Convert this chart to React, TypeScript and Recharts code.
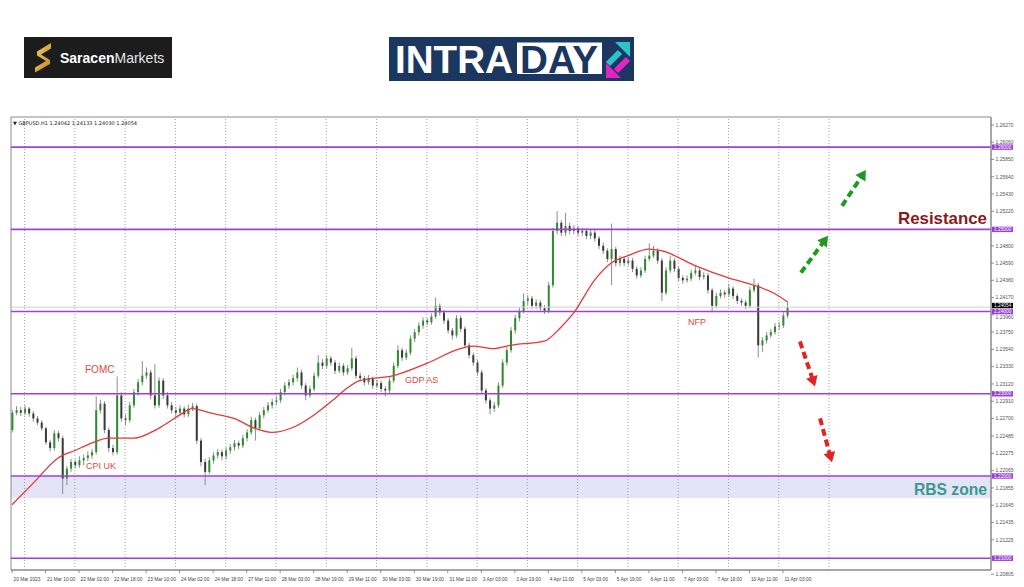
import React from 'react';
import { ComposedChart, Bar, Line, XAxis, YAxis, ReferenceLine, ReferenceArea } from 'recharts';

// Prices are stored in pips above BASE (1 pip = 0.0001). Bars are 2-hour steps.
const BASE = 1.2;
const PIP = 0.0001;
const FIRST_OPEN = 256;

const closes = [
  277, 280, 277, 282, 276, 270, 265, 258, 241, 234,
  252, 246, 197, 209, 217, 213, 219, 222, 225, 229,
  280, 288, 256, 234, 229, 298, 270, 268, 286, 302,
  314, 322, 326, 298, 286, 316, 298, 286, 280, 277,
  282, 275, 282, 285, 243, 217, 205, 219, 225, 229,
  224, 231, 235, 240, 237, 246, 253, 268, 258, 274,
  280, 286, 290, 292, 302, 310, 314, 319, 326, 310,
  298, 306, 322, 338, 334, 343, 338, 328, 334, 326,
  331, 343, 322, 319, 314, 319, 310, 313, 306, 304,
  316, 334, 353, 344, 350, 367, 375, 383, 389, 387,
  394, 407, 399, 389, 377, 371, 392, 379, 359, 347,
  338, 326, 304, 292, 282, 286, 310, 338, 353, 377,
  392, 401, 413, 416, 407, 411, 404, 401, 432, 498,
  508, 496, 504, 498, 501, 496, 498, 492, 496, 489,
  480, 474, 464, 476, 459, 464, 459, 462, 452, 444,
  450, 464, 468, 474, 462, 423, 450, 462, 452, 441,
  438, 440, 447, 450, 442, 444, 426, 407, 419, 423,
  421, 428, 419, 413, 411, 407, 426, 432, 359, 365,
  371, 375, 382, 383, 395, 405,
];

const highs = [
  280, 285, 284, 286, 284, 279, 273, 268, 260, 244,
  256, 255, 249, 212, 221, 220, 224, 226, 230, 233,
  297, 293, 291, 259, 238, 321, 302, 275, 290, 306,
  318, 340, 332, 329, 336, 320, 319, 302, 290, 284,
  286, 285, 287, 289, 288, 246, 221, 223, 229, 233,
  232, 235, 239, 244, 243, 250, 257, 272, 271, 278,
  284, 290, 294, 297, 306, 314, 318, 323, 332, 329,
  313, 310, 326, 347, 342, 347, 346, 341, 338, 337,
  335, 356, 346, 326, 322, 323, 321, 317, 316, 309,
  320, 338, 359, 356, 354, 371, 379, 387, 393, 392,
  398, 417, 410, 402, 392, 380, 396, 395, 382, 362,
  350, 341, 329, 307, 295, 290, 314, 342, 357, 381,
  396, 405, 422, 420, 419, 415, 414, 408, 436, 502,
  522, 511, 520, 508, 505, 504, 502, 501, 500, 499,
  492, 484, 477, 507, 479, 468, 467, 466, 465, 455,
  454, 468, 483, 480, 477, 465, 454, 468, 465, 455,
  444, 444, 451, 456, 453, 448, 447, 429, 423, 427,
  426, 434, 431, 422, 416, 414, 430, 440, 435, 369,
  375, 379, 386, 387, 399, 413,
];

const lows = [
  253, 274, 273, 274, 272, 266, 262, 255, 238, 230,
  231, 242, 178, 189, 205, 209, 210, 213, 218, 221,
  226, 276, 252, 229, 225, 226, 266, 262, 265, 283,
  298, 310, 318, 293, 282, 283, 294, 282, 276, 273,
  274, 271, 272, 279, 239, 212, 189, 202, 215, 221,
  219, 220, 227, 231, 233, 234, 242, 250, 243, 255,
  270, 277, 282, 286, 289, 298, 306, 310, 315, 306,
  292, 295, 303, 319, 330, 331, 334, 324, 325, 322,
  323, 328, 318, 315, 310, 311, 306, 307, 302, 297,
  301, 313, 331, 340, 341, 347, 363, 371, 379, 383,
  384, 391, 395, 385, 373, 366, 368, 375, 355, 343,
  334, 322, 300, 288, 275, 278, 283, 307, 334, 350,
  373, 388, 398, 408, 403, 403, 400, 397, 398, 429,
  494, 492, 492, 494, 494, 492, 492, 488, 488, 485,
  476, 470, 460, 432, 455, 455, 455, 456, 448, 440,
  441, 447, 461, 465, 458, 413, 420, 447, 448, 437,
  434, 435, 437, 444, 438, 439, 422, 399, 404, 416,
  417, 418, 415, 409, 407, 403, 404, 423, 344, 351,
  361, 368, 372, 378, 380, 392,
];

// Moving average read at sample hours
const maHours = [0, 10, 22, 30, 38, 46, 58, 70, 80, 86, 94, 106, 116, 124, 134, 144, 154, 160, 166, 182, 198, 214, 220, 230, 238, 254, 262, 268, 278, 286, 294, 304, 310, 326, 342, 354, 364, 370];
const maPips = [165, 191, 222, 231, 240, 246, 246, 258, 274, 282, 277, 270, 258, 253, 259, 274, 294, 307, 316, 322, 337, 355, 358, 355, 359, 364, 381, 398, 438, 459, 468, 476, 474, 456, 441, 432, 422, 412];

const timeLabels = [
  '20 Mar 2023', '21 Mar 10:00', '22 Mar 02:00', '22 Mar 18:00', '23 Mar 10:00', '24 Mar 02:00',
  '24 Mar 18:00', '27 Mar 11:00', '28 Mar 03:00', '28 Mar 19:00', '29 Mar 11:00', '30 Mar 03:00',
  '30 Mar 19:00', '31 Mar 11:00', '3 Apr 03:00', '3 Apr 19:00', '4 Apr 11:00', '5 Apr 03:00',
  '5 Apr 19:00', '6 Apr 11:00', '7 Apr 03:00', '7 Apr 19:00', '10 Apr 11:00', '11 Apr 03:00',
];
const labelHours = timeLabels.map((_, i) => i * 16);
const dayGridHours = Array.from({ length: 17 }, (_, k) => 6 + k * 24);

const priceTicks = [
  1.2627, 1.2606, 1.2585, 1.2564, 1.2543, 1.2522, 1.248, 1.2459, 1.2438, 1.2417,
  1.2396, 1.2375, 1.2354, 1.2333, 1.2312, 1.2291, 1.227, 1.22485, 1.22275, 1.22065,
  1.21855, 1.21645, 1.21435, 1.21225, 1.20805,
];
const tickLabelText = [
  '1.26270', '1.26060', '1.25850', '1.25640', '1.25430', '1.25220', '1.24800', '1.24590', '1.24380', '1.24170',
  '1.23960', '1.23750', '1.23540', '1.23330', '1.23120', '1.22910', '1.22700', '1.22485', '1.22275', '1.22065',
  '1.21855', '1.21645', '1.21435', '1.21225', '1.20805',
];
const levelPrices = [1.26, 1.25, 1.24, 1.23, 1.22, 1.21];
const levelText = ['1.26000', '1.25000', '1.24000', '1.23000', '1.22000', '1.21000'];
const lastPrice = 1.24054;
const rbsZone = [1.2173, 1.22];

const greenArrows = [
  [{ x: 376.6, y: 1.24473 }, { x: 389.5, y: 1.24922 }],
  [{ x: 396.2, y: 1.25286 }, { x: 407.6, y: 1.25723 }],
];
const redArrows = [
  [{ x: 376.1, y: 1.23636 }, { x: 383.3, y: 1.2309 }],
  [{ x: 385.7, y: 1.22701 }, { x: 391.4, y: 1.22167 }],
];

const X_MIN = -0.48;
const X_MAX = 467.3;
const Y_MIN = 1.208568;
const Y_MAX = 1.263665;

const maMap: Record<number, number> = {};
maHours.forEach((h, i) => { maMap[h] = BASE + maPips[i] * PIP; });

const rows = closes.map((c, i) => {
  const h = i * 2;
  const open = i === 0 ? FIRST_OPEN : closes[i - 1];
  return {
    h,
    open: BASE + open * PIP,
    close: BASE + c * PIP,
    high: BASE + highs[i] * PIP,
    low: BASE + lows[i] * PIP,
    ma: maMap[h] !== undefined ? maMap[h] : null,
  };
});

const FONT = 'Liberation Sans, Arial, sans-serif';

const Candle = (props: any) => {
  let { x, y, width, height, payload } = props;
  if (payload == null || x == null) return null;
  if (height < 0) { y = y + height; height = -height; }
  const { open, close, high, low } = payload;
  const cx = x + width / 2;
  const span = high - low || 1e-9;
  const py = (v: number) => y + ((high - v) / span) * height;
  const top = py(Math.max(open, close));
  const bot = py(Math.min(open, close));
  const bull = close >= open;
  return (
    <g>
      <line x1={cx} x2={cx} y1={y} y2={y + height} stroke="#8e8e8e" strokeWidth={1} />
      <rect x={cx - 1} y={top} width={2} height={Math.max(0.8, bot - top)} fill={bull ? '#2e8b2e' : '#3a3a3a'} />
    </g>
  );
};

const TimeTick = (props: any) => {
  const { x, y, payload } = props;
  const idx = labelHours.indexOf(payload.value);
  const label = idx >= 0 ? timeLabels[idx] : '';
  return (
    <g>
      <line x1={x} x2={x} y1={y} y2={y + 3} stroke="#777" strokeWidth={0.8} />
      <text x={x + 1.5} y={y + 10.5} fontSize={4.8} fill="#444" fontFamily={FONT}>{label}</text>
    </g>
  );
};

const near = (a: number, b: number) => Math.abs(a - b) < 1e-7;

const PriceTick = (props: any) => {
  const { x, y, payload } = props;
  const v = payload.value;
  const li = levelPrices.findIndex((l) => near(l, v));
  if (li >= 0) {
    return (
      <g>
        <rect x={x + 1} y={y - 2.7} width={21} height={5.4} fill="#9b3fd6" />
        <text x={x + 3} y={y + 1.7} fontSize={4.8} fill="#fff" fontFamily={FONT}>{levelText[li]}</text>
      </g>
    );
  }
  if (near(v, lastPrice)) {
    const yy = y - 1.6;
    return (
      <g>
        <rect x={x + 1} y={yy - 2.7} width={21} height={5.4} fill="#000" />
        <text x={x + 3} y={yy + 1.7} fontSize={4.8} fill="#fff" fontFamily={FONT}>1.24054</text>
      </g>
    );
  }
  const ti = priceTicks.findIndex((t) => near(t, v));
  const shift = near(v, 1.2396) ? 2.6 : 0;
  return (
    <g>
      <line x1={x} x2={x + 3} y1={y} y2={y} stroke="#777" strokeWidth={0.8} />
      <text x={x + 4.5} y={y + 1.8 + shift} fontSize={5} fill="#555" fontFamily={FONT}>{ti >= 0 ? tickLabelText[ti] : ''}</text>
    </g>
  );
};

const makeArrow = (color: string) => (p: any) => {
  const { x1, y1, x2, y2 } = p;
  const dx = x2 - x1;
  const dy = y2 - y1;
  const len = Math.hypot(dx, dy) || 1;
  const ux = dx / len;
  const uy = dy / len;
  const head = 10;
  const hw = 6;
  const bx = x2 - ux * head;
  const by = y2 - uy * head;
  return (
    <g>
      <line x1={x1} y1={y1} x2={bx + ux * 2} y2={by + uy * 2} stroke={color} strokeWidth={4} strokeDasharray="7 4" />
      <polygon points={`${x2},${y2} ${bx - uy * hw},${by + ux * hw} ${bx + uy * hw},${by - ux * hw}`} fill={color} />
    </g>
  );
};

const allYTicks = [...priceTicks, lastPrice, ...levelPrices];

export default function App() {
  return (
    <div style={{ position: 'absolute', left: 0, top: 0, width: 1024, height: 587, background: '#fff', overflow: 'hidden' }}>
      <ComposedChart width={1024} height={587} data={rows} margin={{ top: 117, left: 11, right: 0, bottom: 0 }}>
        <XAxis
          dataKey="h"
          type="number"
          domain={[X_MIN, X_MAX]}
          allowDataOverflow
          ticks={labelHours}
          interval={0}
          tick={<TimeTick />}
          tickLine={false}
          tickSize={0}
          tickMargin={0}
          axisLine={{ stroke: '#8a8a8a' }}
          height={17}
        />
        <YAxis
          orientation="right"
          type="number"
          domain={[Y_MIN, Y_MAX]}
          allowDataOverflow
          ticks={allYTicks}
          interval={0}
          tick={<PriceTick />}
          tickLine={false}
          tickSize={0}
          tickMargin={0}
          axisLine={{ stroke: '#8a8a8a' }}
          width={33}
        />
        <ReferenceArea x1={X_MIN} x2={X_MAX} y1={rbsZone[0]} y2={rbsZone[1]} fill="#d8d8f4" fillOpacity={0.7} stroke="none" />
        {dayGridHours.map((h) => (
          <ReferenceLine key={'g' + h} x={h} stroke="#8c8c8c" strokeDasharray="1 2" strokeWidth={0.8} />
        ))}
        <ReferenceLine y={lastPrice} stroke="#d0d0d0" strokeWidth={1} />
        {levelPrices.map((l) => (
          <ReferenceLine key={'l' + l} y={l} stroke="#a040d8" strokeWidth={1.6} />
        ))}
        <Bar dataKey={(d: any) => [d.low, d.high]} shape={Candle} barSize={3} isAnimationActive={false} />
        <Line dataKey="ma" type="monotone" stroke="#e5383b" strokeWidth={1.3} dot={false} connectNulls isAnimationActive={false} />
        {greenArrows.map((seg, i) => (
          <ReferenceLine key={'ga' + i} segment={seg} shape={makeArrow('#1f9a1f')} />
        ))}
        {redArrows.map((seg, i) => (
          <ReferenceLine key={'ra' + i} segment={seg} shape={makeArrow('#e52222')} />
        ))}
        <ReferenceArea x1={X_MIN} x2={X_MAX} y1={Y_MIN} y2={Y_MAX} fill="none" stroke="#8a8a8a" strokeWidth={1} />
      </ComposedChart>
      <svg width={1024} height={587} style={{ position: 'absolute', left: 0, top: 0, pointerEvents: 'none' }}>
        <defs>
          <linearGradient id="gold" x1="0" y1="0" x2="1" y2="1">
            <stop offset="0%" stopColor="#f7cd5e" />
            <stop offset="100%" stopColor="#b8862b" />
          </linearGradient>
        </defs>
        {/* Saracen Markets logo */}
        <rect x={24} y={37} width={148} height={41} fill="#1c1c1c" />
        <path d="M51 43 L37 51.5 L37 55.5 L46 61 L35 67.5 L35 72.5 L50 64 L50 60 L41 54.5 L51 48.5 Z" fill="url(#gold)" />
        <text x={60} y={63} fontSize={14} fill="#ffffff" fontFamily={FONT}>
          <tspan fontWeight={700}>Saracen</tspan>
          <tspan fill="#e6e6e6">Markets</tspan>
        </text>
        {/* INTRADAY logo */}
        <rect x={389} y={37} width={245} height={44} fill="#1b365f" />
        <rect x={517} y={42.5} width={85} height={31.5} fill="#ffffff" />
        <text x={395} y={72.7} fontSize={38.5} fontWeight={700} fill="#ffffff" fontFamily={FONT} textLength={118} lengthAdjust="spacingAndGlyphs">INTRA</text>
        <text x={520} y={72.7} fontSize={38.5} fontWeight={700} fill="#1b365f" fontFamily={FONT} textLength={78} lengthAdjust="spacingAndGlyphs">DAY</text>
        <line x1={608} y1={64} x2={620} y2={52} stroke="#2cc3c9" strokeWidth={6} />
        <polygon points="615,42 630,42 630,57" fill="#2cc3c9" />
        <line x1={628} y1={59} x2={616} y2={71} stroke="#e324c4" strokeWidth={6} />
        <polygon points="606,63 606,78 621,78" fill="#e324c4" />
        {/* header */}
        <text x={13} y={125} fontSize={5} fill="#222" fontFamily="DejaVu Sans, sans-serif">▼ GBPUSD,H1  1.24042 1.24133 1.24030 1.24054</text>
        {/* event annotations */}
        <text x={85} y={372.6} fontSize={10} fill="#e0483e" fontFamily={FONT}>FOMC</text>
        <text x={86} y={469.2} fontSize={9} fill="#e0483e" fontFamily={FONT}>CPI UK</text>
        <text x={405} y={383.2} fontSize={9} fill="#e0483e" fontFamily={FONT}>GDP AS</text>
        <text x={688} y={325.2} fontSize={9} fill="#e0483e" fontFamily={FONT}>NFP</text>
        <text x={898} y={224.2} fontSize={17} fontWeight={700} fill="#8b1a1a" fontFamily={FONT} textLength={89} lengthAdjust="spacingAndGlyphs">Resistance</text>
        <text x={914} y={494.8} fontSize={16} fontWeight={700} fill="#3a9890" fontFamily={FONT} textLength={73} lengthAdjust="spacingAndGlyphs">RBS zone</text>
      </svg>
    </div>
  );
}
